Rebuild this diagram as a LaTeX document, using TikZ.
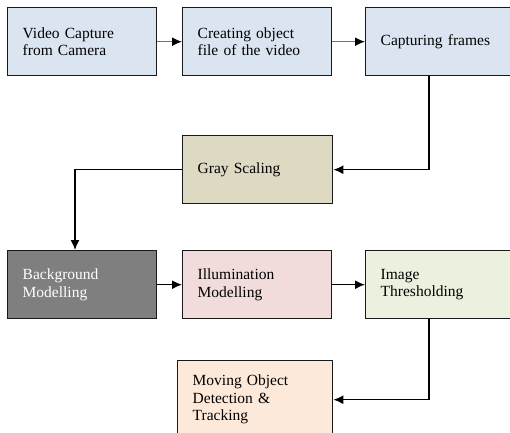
\documentclass[tikz,border=0pt]{standalone}
\usepackage{fontspec}
\setmainfont{Liberation Serif}
\usetikzlibrary{arrows.meta}

\definecolor{capblue}{HTML}{DBE5F1}
\definecolor{graytan}{HTML}{DDD9C3}
\definecolor{bggray}{HTML}{7F7F7F}
\definecolor{illumpink}{HTML}{F2DCDB}
\definecolor{threshgreen}{HTML}{EBF1DE}
\definecolor{movepeach}{HTML}{FDE9D9}

\tikzset{
  stage/.style={draw=black!90, line width=1.4pt, anchor=north west, align=left,
    inner xsep=15pt, minimum height=68pt, text width=#1,
    font=\fontsize{15.5}{17.5}\selectfont},
  flow/.style={-{Latex[length=10pt,width=9pt,color=black]}, line width=1.4pt},
}

\begin{document}
\begin{tikzpicture}[x=1pt,y=-1pt]
  \useasboundingbox (0,0) rectangle (510,432);
  \clip (0,0) rectangle (510,432);

  %% first row
  \node[stage=119pt, fill=capblue] (capture) at (7,7) {Video Capture\\from Camera};
  \node[stage=119pt, fill=capblue] (objfile) at (182,7) {Creating object\\file of the video};
  \node[stage=140pt, fill=capblue] (frames) at (365,7) {Capturing frames};

  %% gray scaling sits alone in between
  \node[stage=120pt, fill=graytan] (gray) at (182,135) {Gray Scaling};

  %% second row
  \node[stage=119pt, fill=bggray, text=white] (bg) at (7,250) {Background\\Modelling};
  \node[stage=119pt, fill=illumpink] (illum) at (182,250) {Illumination\\Modelling};
  \node[stage=140pt, fill=threshgreen] (thresh) at (365,250) {Image\\Thresholding};

  %% last box, cut off by the page
  \node[stage=125pt, fill=movepeach, minimum height=78pt] (moving) at (177,360) {Moving Object\\Detection \&\\Tracking};

  \draw[flow, draw=black!55] (capture) -- (objfile);
  \draw[flow, draw=black!55] (objfile) -- (frames);
  \draw[flow] ([xshift=64pt]frames.south west) |- (gray.east);
  \draw[flow] (gray.west) -| ([xshift=68pt]bg.north west);
  \draw[flow] (bg) -- (illum);
  \draw[flow] (illum) -- (thresh);
  \draw[flow] ([xshift=64pt]thresh.south west) |- (moving.east);
\end{tikzpicture}
\end{document}
